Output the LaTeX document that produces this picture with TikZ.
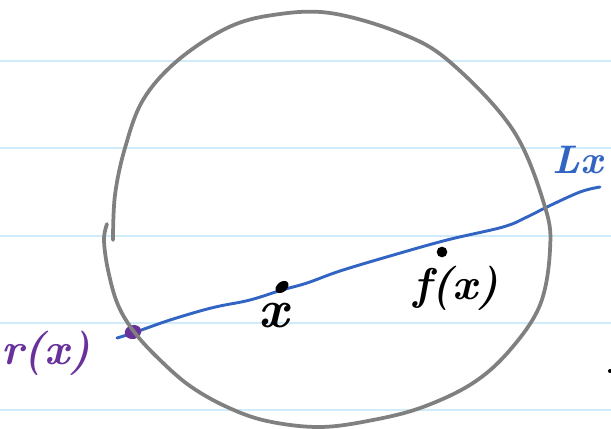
\documentclass[tikz,border=0pt]{standalone}
\usepackage{fontspec}
\usetikzlibrary{shapes.geometric}

\definecolor{ruleBlue}{RGB}{208,236,250}
\definecolor{penGray}{RGB}{128,128,128}
\definecolor{penBlue}{RGB}{50,100,195}
\definecolor{penPurple}{RGB}{105,50,155}

\begin{document}
\begin{tikzpicture}[
    x=0.03cm,
    y=-0.03cm,
    rule/.style={draw=ruleBlue, line width=1.3pt},
    ink/.style={line width=3.2pt, line cap=round, line join=round},
    disk/.style={ink, draw=penGray},
    lineL/.style={ink, draw=penBlue, line width=2.5pt},
    dot/.style={ellipse, fill, inner sep=0pt},
    lbl/.style={inner sep=0pt, font=\fontsize{38}{42}\selectfont\bfseries\itshape}
]
\useasboundingbox (0,0) rectangle (611,429);

% ============================================================
% PAPIER (LINIE)
% ============================================================
\foreach \yy in {61,148,236,323,410}
    \draw[rule] (0,\yy) -- (611,\yy);

% ============================================================
% PROSTA L_x
% ============================================================
\coordinate (lstart) at (117,338);
\coordinate (lend) at (600,187);
\draw[lineL] plot[smooth, tension=0.6] coordinates {
    (lstart) (133,333) (167,321) (200,311) (220,306) (250,300)
    (282,290) (307,283) (340,271) (390,256) (447,240)
    (503,227) (527,217) (547,207) (580,192) (lend)};

% ============================================================
% PUNKTY
% ============================================================
\node[dot, penPurple, minimum width=0.5cm, minimum height=0.42cm,
      rotate=15] (rdot) at (133,332) {};
\node[dot, black, minimum width=0.44cm, minimum height=0.3cm,
      rotate=40] (xdot) at (282,287) {};
\node[dot, black, minimum size=0.32cm] (fdot) at (442,252) {};
\node[dot, black, minimum size=0.12cm] (edge) at (610,371) {};

% ============================================================
% KOLO (RYSOWANE ODRĘCZNIE)
% ============================================================
\draw[disk] plot[smooth, tension=0.6] coordinates {
    (113,240) (115,195) (125,148) (143,100) (177,61) (227,28)
    (273,15) (330,13) (400,33) (450,62) (513,130) (545,207)
    (550,250) (540,305) (510,350) (473,383) (423,407) (373,420)
    (320,427) (267,421) (227,407) (190,386) (160,360) (135,333)
    (118,305) (108,270) (104,240) (107,224)};

% ============================================================
% OPISY
% ============================================================
\node[lbl, font=\fontsize{46}{50}\selectfont\bfseries\itshape] (xlbl) at (274,316) {x};
\node[lbl] (flbl) at (456,288) {f(x)};
\node[lbl, text=penPurple] (rlbl) at (46,353) {r(x)};
\node[lbl, text=penBlue, font=\fontsize{34}{38}\selectfont\bfseries\itshape]
    (llbl) at (578,160) {Lx};

\end{tikzpicture}
\end{document}
